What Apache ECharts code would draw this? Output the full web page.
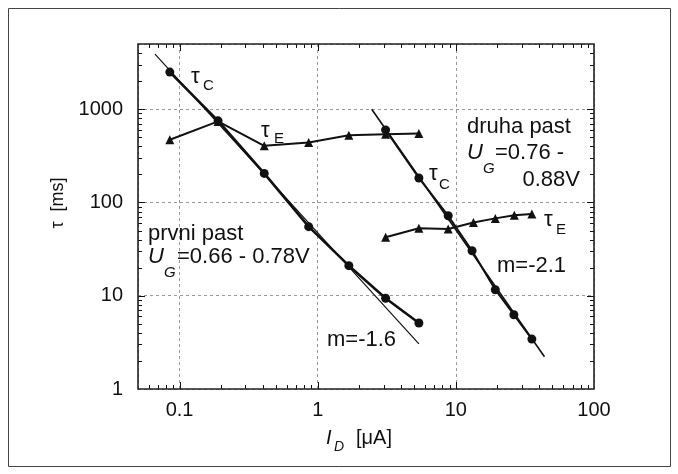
<!DOCTYPE html>
<html>
<head>
<meta charset="utf-8">
<script src="https://cdn.jsdelivr.net/npm/echarts@6/dist/echarts.min.js"></script>
<style>
  html, body { margin: 0; padding: 0; background: #fff; }
  #chart { width: 678px; height: 474px; }
</style>
</head>
<body>
<div id="chart"></div>
<script>
// Trap 1 ("prvni past"): drain current I_D [uA] and time constants [ms]
const currentC1 = [0.085, 0.19, 0.41, 0.86, 1.68, 3.1, 5.4];
const tauC1 = [2500, 750, 205, 55, 21, 9.4, 5.1];
const currentE1 = [0.085, 0.19, 0.41, 0.86, 1.68, 3.1, 5.4];
const tauE1 = [470, 740, 405, 440, 525, 540, 550];

// Trap 2 ("druha past")
const currentC2 = [3.1, 5.4, 8.8, 13.1, 19.3, 26.3, 35.5];
const tauC2 = [600, 183, 72, 30.4, 11.6, 6.26, 3.43];
const currentE2 = [3.1, 5.4, 8.8, 13.4, 19.3, 26.5, 35.5];
const tauE2 = [42.3, 53, 52, 61, 67.5, 73, 75];

// Power-law fit lines (end points), slopes m = -1.6 and m = -2.1
const fit1Current = [0.0664, 5.4];
const fit1Tau = [3900, 3.04];
const fit2Current = [2.46, 43.8];
const fit2Tau = [1000, 2.22];

// Axis ranges and tick labels
const xRange = [0.05, 100];
const yRange = [1, 5000];
const xTickValues = [0.1, 1, 10, 100];
const xTickLabels = ['0.1', '1', '10', '100'];
const yTickValues = [1, 10, 100, 1000];
const yTickLabels = ['1', '10', '100', '1000'];

const FONT = '"Liberation Sans", Arial, Helvetica, sans-serif';
const INK = '#111';

const zip = (xs, ys) => xs.map((x, i) => [x, ys[i]]);

function labelFor(values, labels) {
  return function (v) {
    for (let i = 0; i < values.length; i++) {
      if (Math.abs(Math.log10(v) - Math.log10(values[i])) < 1e-6) return labels[i];
    }
    return '';
  };
}

// Major and minor tick positions of a log axis inside [lo, hi]
function logTicks(lo, hi) {
  const major = [], minor = [];
  for (let e = Math.floor(Math.log10(lo)); e <= Math.ceil(Math.log10(hi)); e++) {
    const d = Math.pow(10, e);
    if (d > lo * 1.0001 && d < hi / 1.0001) major.push(d);
    for (let k = 2; k <= 9; k++) {
      const v = k * d;
      if (v > lo * 1.0001 && v < hi / 1.0001) minor.push(v);
    }
  }
  return { major, minor };
}
const xTicks = logTicks(xRange[0], xRange[1]);
const yTicks = logTicks(yRange[0], yRange[1]);

// Inward ticks on all four sides plus the plot frame
function renderFrame(params, api) {
  const cs = params.coordSys;
  const L = cs.x, T = cs.y, R = cs.x + cs.width, B = cs.y + cs.height;
  const kids = [];
  const seg = (x1, y1, x2, y2) => ({
    type: 'line',
    shape: { x1, y1, x2, y2 },
    style: { stroke: INK, lineWidth: 1 }
  });
  const addX = (vals, len) => vals.forEach(v => {
    const px = Math.round(api.coord([v, yRange[0]])[0]) + 0.5;
    kids.push(seg(px, B, px, B - len));
    kids.push(seg(px, T, px, T + len));
  });
  const addY = (vals, len) => vals.forEach(v => {
    const py = Math.round(api.coord([xRange[0], v])[1]) + 0.5;
    kids.push(seg(L, py, L + len, py));
    kids.push(seg(R, py, R - len, py));
  });
  addX(xTicks.major, 7); addX(xTicks.minor, 4);
  addY(yTicks.major, 7); addY(yTicks.minor, 4);
  kids.push({
    type: 'rect',
    shape: { x: L, y: T, width: cs.width, height: cs.height },
    style: { fill: null, stroke: '#222', lineWidth: 1.6 }
  });
  return { type: 'group', children: kids };
}

function txt(x, y, text, size, extra) {
  return Object.assign({
    type: 'text', x, y, silent: true, z: 20,
    style: Object.assign({
      text, fill: INK, font: size + 'px ' + FONT,
      align: 'left', verticalAlign: 'middle'
    }, extra || {})
  });
}
function itxt(x, y, text, size, extra) {
  const t = txt(x, y, text, size, extra);
  t.style.font = 'italic ' + size + 'px ' + FONT;
  return t;
}

const graphics = [
  // outer figure frame
  { type: 'rect', shape: { x: 8.5, y: 8.5, width: 662, height: 458 },
    style: { fill: null, stroke: '#444', lineWidth: 1 }, silent: true },

  // axis titles
  Object.assign(txt(58, 203, '\u03c4  [ms]', 18, { align: 'center' }), { rotation: Math.PI / 2 }),
  itxt(326, 438, 'I', 20),
  itxt(334, 447, 'D', 14),
  txt(356, 438, '[\u03bcA]', 20),

  // trap 1 annotations
  txt(191, 77, '\u03c4', 22),
  txt(203, 86, 'C', 15),
  txt(261, 131, '\u03c4', 22),
  txt(274, 139, 'E', 15),
  txt(148, 234, 'prvni past', 22),
  itxt(148, 257, 'U', 22),
  itxt(164, 273, 'G', 15),
  txt(177, 257, '=0.66 - 0.78V', 22),
  txt(327, 340, 'm=-1.6', 22),

  // trap 2 annotations
  txt(429, 174, '\u03c4', 22),
  txt(439, 185, 'C', 15),
  txt(544, 220, '\u03c4', 22),
  txt(556, 230, 'E', 15),
  txt(467, 127, 'druha past', 22),
  itxt(467, 153, 'U', 22),
  itxt(483, 169, 'G', 15),
  txt(495, 153, '=0.76 -', 22),
  txt(580, 180, '0.88V', 22, { align: 'right' }),
  txt(497, 266, 'm=-2.1', 22)
];

const lineStyle = (w) => ({ color: INK, width: w });

const chart = echarts.init(document.getElementById('chart'), null, { renderer: 'canvas' });
chart.setOption({
  animation: false,
  backgroundColor: '#fff',
  grid: { left: 138, top: 44, width: 456, height: 345, outerBoundsMode: 'none', containLabel: false },
  xAxis: {
    type: 'log', logBase: 10, min: xRange[0], max: xRange[1],
    axisLine: { show: false }, axisTick: { show: false },
    axisLabel: {
      formatter: labelFor(xTickValues, xTickLabels),
      color: INK, fontSize: 20, fontFamily: FONT, margin: 11,
      showMinLabel: true, showMaxLabel: true
    },
    splitLine: { show: true, lineStyle: { color: '#9a9a9a', width: 1, type: [3, 3] } }
  },
  yAxis: {
    type: 'log', logBase: 10, min: yRange[0], max: yRange[1],
    axisLine: { show: false }, axisTick: { show: false },
    axisLabel: {
      formatter: labelFor(yTickValues, yTickLabels),
      color: INK, fontSize: 20, fontFamily: FONT, margin: 15,
      showMinLabel: true, showMaxLabel: true
    },
    splitLine: { show: true, lineStyle: { color: '#9a9a9a', width: 1, type: [3, 3] } }
  },
  graphic: graphics,
  series: [
    { name: 'fit m=-1.6', type: 'line', data: zip(fit1Current, fit1Tau),
      showSymbol: false, lineStyle: lineStyle(1.2), z: 3 },
    { name: 'tauC trap 1', type: 'line', data: zip(currentC1, tauC1),
      symbol: 'circle', symbolSize: 9, itemStyle: { color: INK },
      lineStyle: lineStyle(2.6), z: 4 },
    { name: 'tauE trap 1', type: 'line', data: zip(currentE1, tauE1),
      symbol: 'triangle', symbolSize: 9, itemStyle: { color: INK },
      lineStyle: lineStyle(2), z: 4 },
    { name: 'fit m=-2.1', type: 'line', data: zip(fit2Current, fit2Tau),
      showSymbol: false, lineStyle: lineStyle(1.6), z: 3 },
    { name: 'tauC trap 2', type: 'line', data: zip(currentC2, tauC2),
      symbol: 'circle', symbolSize: 9, itemStyle: { color: INK },
      lineStyle: lineStyle(2), z: 4 },
    { name: 'tauE trap 2', type: 'line', data: zip(currentE2, tauE2),
      symbol: 'triangle', symbolSize: 9, itemStyle: { color: INK },
      lineStyle: lineStyle(2), z: 4 },
    { name: 'frame', type: 'custom', renderItem: renderFrame,
      data: [[1, 1]], silent: true, clip: false, z: 10 }
  ]
});
</script>
</body>
</html>
